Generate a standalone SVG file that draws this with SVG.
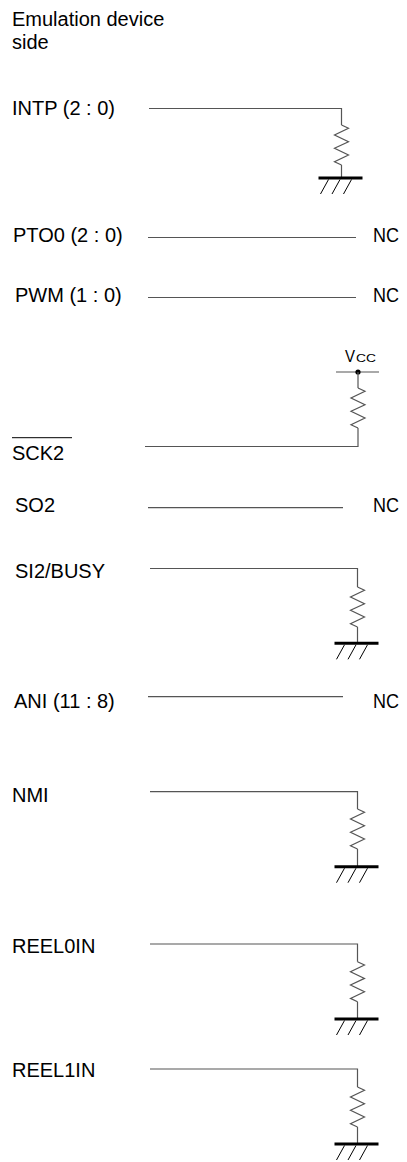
<svg xmlns="http://www.w3.org/2000/svg" width="407" height="1162" viewBox="0 0 407 1162">
<defs>
<style>
text{font-family:"Liberation Sans",Arial,sans-serif;font-size:20px;fill:#000}
.nc{font-size:20px}
.v{font-size:16px}
.sub{font-size:11.5px}
.w{fill:none;stroke:#555;stroke-width:1.2}
.gb{stroke:#000;stroke-width:3}
.h{stroke:#000;stroke-width:1}
</style>
<g id="res">
<polyline class="w" points="0,0 7,3.3 -7,10 7,16.7 -7,23.3 7,30 -7,36.7 0,40"/>
</g>
<g id="gnd">
<line class="gb" x1="-23" y1="0" x2="21" y2="0"/>
<line class="h" x1="-13" y1="1.5" x2="-21" y2="16"/>
<line class="h" x1="-1.5" y1="1.5" x2="-9.5" y2="16"/>
<line class="h" x1="10" y1="1.5" x2="2" y2="16"/>
</g>
</defs>

<g id="title">
<text x="12" y="26">Emulation device</text>
<text x="12" y="49">side</text>
</g>

<g id="labels">
<text id="intp" x="12" y="115">INTP (2 : 0)</text>
<text id="pto0" x="13" y="242">PTO0 (2 : 0)</text>
<text id="pwm" x="15" y="302">PWM (1 : 0)</text>
<text id="sck2" x="12" y="460">SCK2</text>
<text id="so2" x="15" y="512">SO2</text>
<text id="si2" x="15" y="578">SI2/BUSY</text>
<text id="ani" x="14" y="708">ANI (11 : 8)</text>
<text id="nmi" x="12" y="802">NMI</text>
<text id="reel0" x="12" y="953">REEL0IN</text>
<text id="reel1" x="12" y="1077">REEL1IN</text>
<text class="nc" x="373" y="242" textLength="26" lengthAdjust="spacingAndGlyphs">NC</text>
<text class="nc" x="373" y="302" textLength="26" lengthAdjust="spacingAndGlyphs">NC</text>
<text class="nc" x="373" y="512" textLength="26" lengthAdjust="spacingAndGlyphs">NC</text>
<text class="nc" x="373" y="708" textLength="26" lengthAdjust="spacingAndGlyphs">NC</text>
<text class="v" x="345" y="362" textLength="10" lengthAdjust="spacingAndGlyphs">V</text>
<text class="sub" x="356" y="362" textLength="20" lengthAdjust="spacingAndGlyphs">CC</text>
</g>

<g id="connectors">
<line x1="12" y1="437.7" x2="72" y2="437.7" stroke="#000" stroke-width="1"/>
<!-- INTP -->
<polyline class="w" points="149,108.5 341.5,108.5 341.5,125"/>
<use href="#res" x="341.5" y="125"/>
<line class="w" x1="341.5" y1="165" x2="341.5" y2="178"/>
<use href="#gnd" x="341.5" y="178"/>
<!-- PTO0, PWM -->
<line class="w" x1="148" y1="237.5" x2="356" y2="237.5"/>
<line class="w" x1="148" y1="297.5" x2="356" y2="297.5"/>
<!-- VCC / SCK2 -->
<line class="w" x1="336" y1="372" x2="379" y2="372"/>
<circle cx="358" cy="372" r="2.6" fill="#000"/>
<line class="w" x1="358" y1="372" x2="358" y2="388"/>
<use href="#res" x="358" y="388"/>
<polyline class="w" points="358,428 358,446.5 145,446.5"/>
<!-- SO2 -->
<line class="w" x1="148" y1="507.7" x2="343" y2="507.7"/>
<!-- SI2 -->
<polyline class="w" points="150,568.5 357.5,568.5 357.5,587"/>
<use href="#res" x="357.5" y="587"/>
<line class="w" x1="357.5" y1="627" x2="357.5" y2="643.3"/>
<use href="#gnd" x="357.5" y="643.3"/>
<!-- ANI -->
<line class="w" x1="148" y1="696.7" x2="343" y2="696.7"/>
<!-- NMI -->
<polyline class="w" points="150,791.7 357.5,791.7 357.5,809"/>
<use href="#res" x="357.5" y="809"/>
<line class="w" x1="357.5" y1="849" x2="357.5" y2="866.7"/>
<use href="#gnd" x="357.5" y="866.7"/>
<!-- REEL0IN -->
<polyline class="w" points="150,944 357.5,944 357.5,961.7"/>
<use href="#res" x="357.5" y="961.7"/>
<line class="w" x1="357.5" y1="1001.7" x2="357.5" y2="1019"/>
<use href="#gnd" x="357.5" y="1019"/>
<!-- REEL1IN -->
<polyline class="w" points="150,1069 357.5,1069 357.5,1087"/>
<use href="#res" x="357.5" y="1087"/>
<line class="w" x1="357.5" y1="1127" x2="357.5" y2="1144"/>
<use href="#gnd" x="357.5" y="1144"/>
</g>
</svg>
